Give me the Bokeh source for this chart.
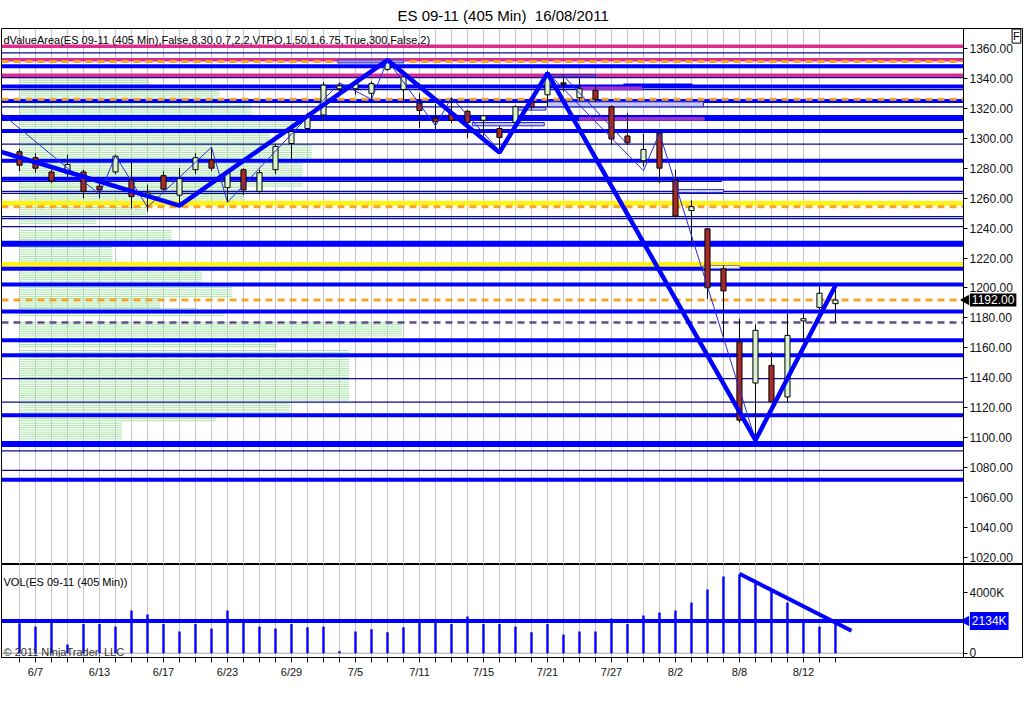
import math
from bokeh.plotting import figure
from bokeh.layouts import column
from bokeh.models import Range1d, FixedTicker, Label, NumeralTickFormatter
from bokeh.embed import file_html
from bokeh.resources import INLINE

FONT = "Liberation Sans"

# ---------------- data ----------------
dates = ["6/6", "6/7", "6/8", "6/9", "6/10", "6/13", "6/14", "6/15", "6/16", "6/17",
         "6/20", "6/21", "6/22", "6/23", "6/24", "6/27", "6/28", "6/29", "6/30", "7/1",
         "7/4", "7/5", "7/6", "7/7", "7/8", "7/11", "7/12", "7/13", "7/14", "7/15",
         "7/18", "7/19", "7/20", "7/21", "7/22", "7/25", "7/26", "7/27", "7/28", "7/29",
         "8/1", "8/2", "8/3", "8/4", "8/5", "8/8", "8/9", "8/10", "8/11", "8/12",
         "8/15", "8/16"]
labeled_dates = ["6/7", "6/13", "6/17", "6/23", "6/29", "7/5", "7/11", "7/15",
                 "7/21", "7/27", "8/2", "8/8", "8/12"]

opens = [1291, 1287, 1277.5, 1276.5, 1277.5, 1268, 1277.5, 1272, 1261, 1275,
         1262, 1279, 1285.5, 1267, 1279, 1264.5, 1279, 1296.5, 1306.5, 1315.5,
         1333, 1333, 1330, 1346, 1332.5, 1323.5, 1313.5, 1317, 1318, 1312,
         1306.5, 1310.5, 1324.5, 1329, 1337, 1327, 1332, 1321, 1301.5, 1285,
         1303.5, 1272, 1251.7, 1239.5, 1212.8, 1164, 1136.5, 1148.3, 1127.2, 1178,
         1187, 1189.5]
highs = [1293, 1290, 1279, 1289, 1279, 1271.5, 1289, 1284, 1269, 1278,
         1280, 1290, 1294, 1279, 1280, 1279, 1296, 1305.5, 1317, 1337.5,
         1337, 1338, 1338, 1353, 1343, 1330, 1323, 1327, 1319, 1315.5,
         1308, 1322, 1327, 1345, 1342, 1340, 1335, 1322, 1317, 1303,
         1305, 1279, 1258.5, 1240, 1215, 1179.5, 1175.7, 1157.2, 1182.8, 1183,
         1201, 1200]
lows = [1278, 1277, 1270, 1274, 1260, 1260, 1276, 1253, 1251, 1265,
        1256, 1276, 1278, 1257.5, 1262, 1263, 1276, 1285, 1305, 1312.5,
        1331, 1329, 1325, 1345, 1325, 1307, 1306, 1310, 1300, 1299,
        1293, 1308, 1319, 1321, 1331, 1325, 1324, 1296, 1295.5, 1281,
        1270, 1247, 1230.5, 1192.8, 1164, 1110, 1098.3, 1124, 1123.9, 1165,
        1185.5, 1177.2]
closes = [1282, 1280, 1271.5, 1282.5, 1264.5, 1265.5, 1288, 1261, 1263.5, 1266,
          1273, 1287, 1280, 1277, 1265.5, 1277, 1294.5, 1304.5, 1314.5, 1335.5,
          1335, 1336.5, 1336.5, 1351, 1341, 1318.5, 1311, 1312, 1310.5, 1315,
          1300.5, 1321, 1321, 1342.5, 1336, 1333, 1326, 1299.5, 1297, 1292.5,
          1280, 1248, 1254.3, 1200.1, 1198, 1111.7, 1171.7, 1124, 1168.3, 1179.5,
          1196.5, 1192]

volume_k = [1990, 1770, 2160, 575, 1940, 1940, 1770, 2830, 2560, 1940,
            1440, 1940, 1630, 2830, 2120, 1770, 1630, 1940, 1720, 1770,
            130, 1440, 1590, 1390, 1720, 2100, 2160, 1940, 2430, 1940,
            1940, 1770, 1390, 1940, 1240, 1440, 1440, 2300, 1940, 2500,
            2690, 2830, 3360, 4220, 5080, 5210, 4640, 4150, 3360, 2160,
            1770, 2120]
vol_avg_k = 2134
vol_trend_x = [45, 52]
vol_trend_y = [5258, 1483]

last_price = 1192.00

# thick zigzag pivots (bar index, price)
zz_x = [-1.125, 10, 23, 30, 33, 46, 51]
zz_y = [1290.8, 1255, 1352.2, 1290.5, 1343.5, 1098.3, 1201.7]
# thin zigzag pivots
tz_x = [-1.125, 5, 6, 8, 12, 13, 20, 22, 23, 26, 27, 30, 33, 39, 40, 46]
tz_y = [1316.5, 1262.5, 1288.3, 1254, 1294, 1257.2, 1337, 1326, 1352.1, 1308.3,
        1327.2, 1291.7, 1343.9, 1278.3, 1303.5, 1098.3]
tz2_x = [34, 38]
tz2_y = [1341.7, 1296]

# horizontal level lines
solid_thick_blue = [1348.1, 1334.5, 1324.8, 1304.8, 1285, 1273, 1212.8, 1202.3,
                    1184.3, 1165, 1155, 1115, 1071.9]
very_thick_blue = [1313.5, 1229.5, 1095.7]
thin_blue = [1357, 1340.5, 1332.5, 1321, 1296.1, 1264.5, 1263.2, 1247.7, 1246.3,
             1241, 1139.5, 1123.7, 1091.2, 1078.2]
magenta_levels = [1361.5, 1352.5, 1342.1]
yellow_levels = [1256.5, 1215.7]
orange_dashed = [1351.2, 1326.1, 1254.3, 1192.0]
purple_dashed = [1177.0]
partial_thin_level = 1271.2
partial_thin_end = 43.9
partial_thick_level = 1335.3
partial_thick_x = [37.75, 42.06]

# value-area boxes
box_left = [19.9, 33.0, 35.1, 33.0, 30.9, 35.0, 28.3, 41.1, 42.75]
box_right = [24.0, 36.0, 38.9, 42.75, 32.9, 42.8, 32.8, 44.0, 45.0]
box_bottom = [1350.3, 1341.0, 1332.3, 1321.0, 1318.8, 1312.1, 1308.3, 1263.7, 1213.0]
box_top = [1352.3, 1342.5, 1334.3, 1324.3, 1320.5, 1313.9, 1310.5, 1265.7, 1215.0]
box_fill = ["#a99be6", "#ffffff", "#9933cc", "#c8c8f4", "#d0d0f8", "#9933cc",
            "#c8c8f4", "#d0d0f8", "#eeeeee"]
box_fill_alpha = [1, 0, 1, 1, 1, 1, 1, 1, 1]
box_line = ["#3333cc", "#2222cc", "#9933cc", "#2222cc", "#2222cc", "#9933cc",
            "#2222cc", "#2222cc", "#888888"]

# volume profile bands (top price, bottom price, length in bars)
prof_top = [1341.7, 1334.3, 1325.0, 1313.7, 1305.0, 1295.0, 1283.0, 1267.0,
            1253.7, 1247.7, 1238.3, 1227.0, 1213.0, 1201.7, 1193.0, 1186.3, 1183.0,
            1177.0, 1166.3, 1163.7, 1158.3, 1153.7, 1123.0, 1114.3, 1109.7]
prof_bot = [1335.0, 1325.5, 1314.5, 1305.5, 1295.5, 1283.5, 1267.5, 1255.5,
            1248.5, 1243.0, 1231.7, 1217.0, 1203.7, 1194.0, 1187.0, 1183.7, 1180.3,
            1167.0, 1164.3, 1159.7, 1156.3, 1125.0, 1116.3, 1110.3, 1098.3]
prof_len = [8.1, 12.5, 14.5, 17.7, 15.6, 18.3, 17.7, 14.0,
            7.9, 4.8, 9.5, 5.8, 11.4, 13.3, 8.8, 11.1, 12.8,
            23.9, 21.6, 16.1, 20.6, 20.6, 16.9, 12.3, 6.4]
prof_start = 0
prof_row_step = 1.5

price_ticks = [1020, 1040, 1060, 1080, 1100, 1120, 1140, 1160, 1180, 1200,
               1220, 1240, 1260, 1280, 1300, 1320, 1340, 1360]
vol_ticks = [0, 4000]
vol_tick_labels = {0: "0", 4000: "4000K"}

title_text = "ES 09-11 (405 Min)\u00a0 16/08/2011"
indicator_text = "dValueArea(ES 09-11 (405 Min),False,8,30,0,7,2,2,VTPO,1,50,1,6.75,True,300,False,2)"
vol_text = "VOL(ES 09-11 (405 Min))"
copyright_text = "\u00a9 2011 NinjaTrader, LLC"

# ---------------- layout / style constants ----------------
BLUE = "#0000ff"
NAVY = "#0a0a9a"
UP = "#d6f2d0"
DOWN = "#a52a2a"
GRID = "#c4c4c4"

x_start, x_end = -1.125, 62.69     # frame spans the whole chart width
x_axis_pos = 59.0                  # where the price / volume axis sits
tag_x = 59.4
tri_x = 59.16
xr = Range1d(x_start, x_end)
grid_ticks = list(range(len(dates) - 1))
idx = list(range(len(dates)))


def style_axis(a, size="12px"):
    a.major_label_text_font = FONT
    a.major_label_text_font_size = size
    a.major_label_text_color = "#111111"
    a.major_tick_in = 0
    a.minor_tick_line_color = None
    a.axis_line_color = "black"
    a.major_tick_line_color = "black"


def hlines(fig, levels, **kw):
    n = len(levels)
    fig.segment(x0=[x_start] * n, x1=[x_axis_pos] * n, y0=levels, y1=levels, **kw)


# ---------------- price panel ----------------
p = figure(width=1024, height=564, x_range=xr, y_range=Range1d(1015.3, 1373.3),
           y_axis_location="right", x_axis_location=None,
           output_backend="svg", toolbar_location=None,
           min_border_left=1, min_border_right=2, min_border_top=28, min_border_bottom=0)
p.background_fill_color = "white"
p.border_fill_color = "white"
p.outline_line_color = "black"
p.outline_line_width = 1
p.xgrid.ticker = FixedTicker(ticks=grid_ticks)
p.xgrid.grid_line_color = GRID
p.ygrid.visible = False

p.title.text = title_text
p.title.align = "left"
p.title.offset = 396
p.title.text_font = FONT
p.title.text_font_size = "15px"
p.title.text_font_style = "normal"
p.title.text_color = "black"
p.title.standoff = 9

ax = p.yaxis[0]
ax.fixed_location = x_axis_pos
ax.ticker = FixedTicker(ticks=price_ticks)
ax.formatter = NumeralTickFormatter(format="0.00")
style_axis(ax)
ax.major_tick_out = 4
ax.major_label_standoff = 2

# volume profile rows
rows_y, rows_x1 = [], []
for top, bot, ln in zip(prof_top, prof_bot, prof_len):
    yv = top
    while yv >= bot - 1e-6:
        rows_y.append(yv)
        rows_x1.append(prof_start + ln)
        yv -= prof_row_step
p.segment(x0=[prof_start] * len(rows_y), x1=rows_x1, y0=rows_y, y1=rows_y,
          line_color="#a6e6a6", line_width=1)

# level lines
hlines(p, thin_blue, line_color=NAVY, line_width=1.3)
hlines(p, magenta_levels, line_color="#dd2e8f", line_width=3.5)
hlines(p, yellow_levels, line_color="#fff21a", line_width=5)
hlines(p, solid_thick_blue, line_color=BLUE, line_width=4)
hlines(p, very_thick_blue, line_color=BLUE, line_width=6)
hlines(p, orange_dashed, line_color="#f5a52a", line_width=3, line_dash="7 5")
hlines(p, purple_dashed, line_color="#5d4d8d", line_width=2.5, line_dash="7 5")
p.segment(x0=[x_start], x1=[partial_thin_end], y0=[partial_thin_level], y1=[partial_thin_level],
          line_color=NAVY, line_width=1.3)
p.segment(x0=[partial_thick_x[0]], x1=[partial_thick_x[1]], y0=[partial_thick_level],
          y1=[partial_thick_level], line_color=BLUE, line_width=4)

# boxes
p.quad(left=box_left, right=box_right, bottom=box_bottom, top=box_top,
       fill_color=box_fill, fill_alpha=box_fill_alpha, line_color=box_line, line_width=1)

# candles
p.segment(x0=idx, x1=idx, y0=highs, y1=lows, line_color="black", line_width=1)
body_colors = [UP if c >= o else DOWN for o, c in zip(opens, closes)]
body_top = [max(o, c) for o, c in zip(opens, closes)]
body_bot = [min(o, c) for o, c in zip(opens, closes)]
p.vbar(x=idx, width=0.32, top=body_top, bottom=body_bot, fill_color=body_colors,
       line_color="black", line_width=1)

# zigzags
p.line(tz_x, tz_y, line_color="#2a2ad6", line_width=1)
p.line(tz2_x, tz2_y, line_color="#2a2ad6", line_width=1)
p.line(zz_x, zz_y, line_color=BLUE, line_width=4.5)

# texts / tags
p.add_layout(Label(x=-1.0, y=1365.3, text=indicator_text, text_align="left",
                   text_baseline="middle", text_font=FONT, text_font_size="11px",
                   text_color="black"))
p.scatter(x=[tri_x], y=[last_price], marker="triangle", angle=math.pi / 2, size=9,
          fill_color="black", line_color="black")
p.add_layout(Label(x=tag_x, y=last_price, text="%.2f" % last_price, text_align="left",
                   text_baseline="middle", text_font=FONT, text_font_size="12px",
                   text_color="white", background_fill_color="black", padding=2))
p.add_layout(Label(x=62.31, y=1368.2, text="F", text_align="center",
                   text_baseline="middle", text_font=FONT, text_font_size="11px",
                   text_color="black", background_fill_color="white",
                   border_line_color="black", padding=1))

# ---------------- volume panel ----------------
v = figure(width=1024, height=139, x_range=xr, y_range=Range1d(-285, 5874),
           y_axis_location="right", output_backend="svg", toolbar_location=None,
           min_border_left=1, min_border_right=2, min_border_top=0, min_border_bottom=46)
v.background_fill_color = "white"
v.border_fill_color = "white"
v.outline_line_color = "black"
v.xgrid.ticker = FixedTicker(ticks=grid_ticks)
v.xgrid.grid_line_color = GRID
v.ygrid.visible = False

vy = v.yaxis[0]
vy.fixed_location = x_axis_pos
vy.ticker = FixedTicker(ticks=vol_ticks)
vy.major_label_overrides = vol_tick_labels
style_axis(vy)
vy.major_tick_out = 4
vy.major_label_standoff = 2

vx = v.xaxis[0]
vx.ticker = FixedTicker(ticks=idx)
vx.major_label_overrides = {i: (d if d in labeled_dates else "") for i, d in enumerate(dates)}
style_axis(vx, "11px")
vx.major_tick_out = 5
vx.major_label_standoff = 3

hlines(v, [0], line_color="#a8a8a8", line_width=1)
v.vbar(x=idx, width=0.15, top=volume_k, bottom=0, fill_color=BLUE, line_color=None)
hlines(v, [vol_avg_k], line_color=BLUE, line_width=4)
v.line(vol_trend_x, vol_trend_y, line_color=BLUE, line_width=4)

v.add_layout(Label(x=-1.0, y=4690, text=vol_text, text_align="left",
                   text_baseline="middle", text_font=FONT, text_font_size="11px",
                   text_color="black"))
v.add_layout(Label(x=-1.0, y=110, text=copyright_text, text_align="left",
                   text_baseline="middle", text_font=FONT, text_font_size="11px",
                   text_color="#333333"))
v.scatter(x=[tri_x], y=[vol_avg_k], marker="triangle", angle=math.pi / 2, size=9,
          fill_color=BLUE, line_color=BLUE)
v.add_layout(Label(x=tag_x, y=vol_avg_k, text="%dK" % vol_avg_k, text_align="left",
                   text_baseline="middle", text_font=FONT, text_font_size="12px",
                   text_color="white", background_fill_color=BLUE, padding=2))

layout = column(p, v, spacing=0)
open("out.html", "w").write(file_html(layout, INLINE))
